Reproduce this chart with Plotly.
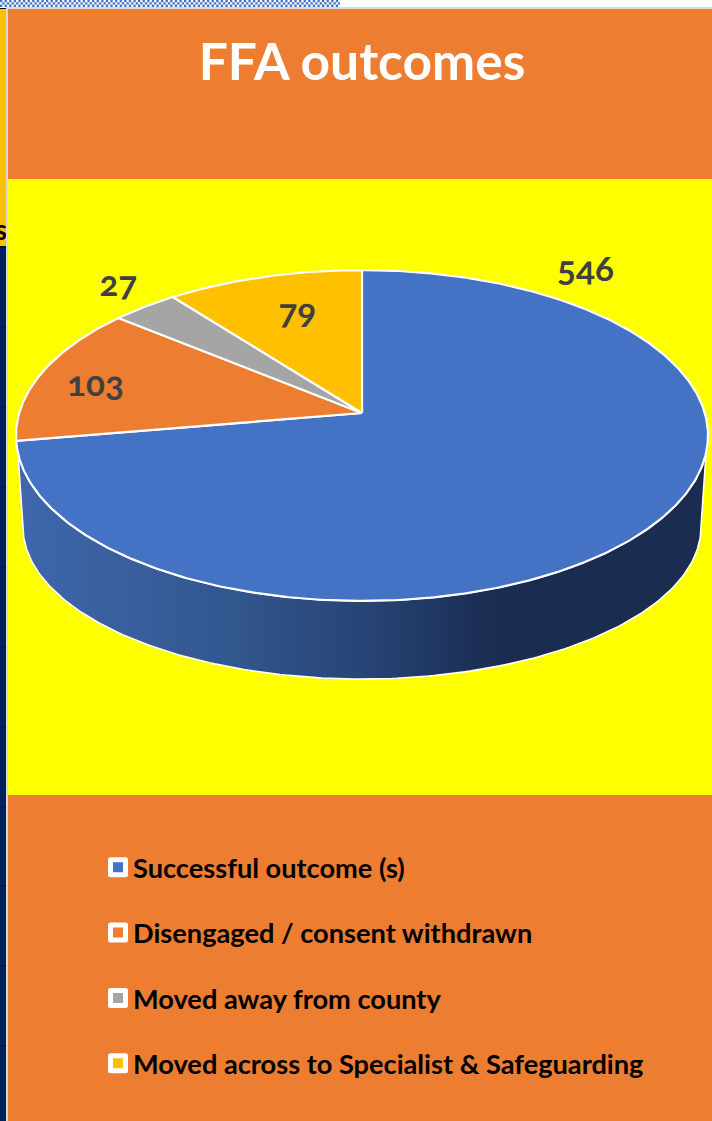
import numpy as np
import plotly.graph_objects as go

# ---- data ----
categories = ["Successful outcome (s)", "Disengaged / consent withdrawn",
              "Moved away from county", "Moved across to Specialist & Safeguarding"]
values = [546, 103, 27, 79]
colors = ["#4472C4", "#ED7D31", "#A5A5A5", "#FFC000"]
title_text = "FFA outcomes"

# ---- geometry of the tilted pie (pixel space) ----
W, H = 712, 1121
APEX_X, APEX_Y = 362, 413
A, B, K = 162.4, 342.8, 0.136     # perspective projection of the disc
RIM_CY, RIM_RX, RIM_RY = 435.5, 346, 165.5
FLOOR_CY, FLOOR_RX, FLOOR_RY = 527, 339, 152


def project(deg):
    t = np.radians(deg)
    d = 1 + K * np.cos(t)
    return APEX_X + B * np.sin(t) / d, APEX_Y - A * np.cos(t) / d


edges = np.cumsum([0] + values) / sum(values) * 360
fig = go.Figure()

# side wall of the blue slice
a0 = np.arcsin((453 - RIM_CY) / RIM_RY)
rim_a = np.linspace(a0, np.pi - a0, 200)
floor_a = np.linspace(np.pi, 0, 200)
wall_x = np.r_[APEX_X + RIM_RX * np.cos(rim_a), APEX_X + FLOOR_RX * np.cos(floor_a)]
wall_y = np.r_[RIM_CY + RIM_RY * np.sin(rim_a), FLOOR_CY + FLOOR_RY * np.sin(floor_a)]
fig.add_trace(go.Scatter(
    x=np.r_[wall_x, wall_x[0]], y=np.r_[wall_y, wall_y[0]], mode="lines", fill="toself",
    line=dict(color="white", width=1.6), showlegend=False, hoverinfo="skip",
    fillgradient=dict(type="horizontal", start=23, stop=702, colorscale=[
        [0, "#3F66AC"], [0.3, "#32578F"], [0.5, "#284476"], [0.7, "#1A2C50"], [1, "#1A2C50"]]),
))

# top faces, drawn from the values
for i, (name, col) in enumerate(zip(categories, colors)):
    ts = np.linspace(edges[i], edges[i + 1], max(4, int((edges[i + 1] - edges[i]) * 2)))
    px, py = project(ts)
    fig.add_trace(go.Scatter(
        x=np.r_[APEX_X, px, APEX_X], y=np.r_[APEX_Y, py, APEX_Y], mode="lines", fill="toself",
        fillcolor=col, line=dict(color="white", width=2.2), showlegend=False,
        name=name, text=str(values[i]), hoverinfo="name+text",
    ))

# legend entries
for name, col in zip(categories, colors):
    fig.add_trace(go.Scatter(
        x=[None], y=[None], mode="markers", name=name, legendgroup=name,
        marker=dict(symbol="square", size=15, color=col, line=dict(color="white", width=5)),
    ))

# clipped letter of the slide behind the chart
fig.add_trace(go.Scatter(x=[1], y=[233], mode="text", text=["s"], showlegend=False, hoverinfo="skip",
                         textfont=dict(family="Lato", size=28, color="black", weight="bold")))

shapes = [
    dict(type="rect", x0=0, x1=W, y0=0, y1=H, fillcolor="white", line_width=0, layer="below"),
    dict(type="rect", x0=0, x1=6, y0=8, y1=248, fillcolor="#FFC000", line_width=0, layer="below"),
    dict(type="rect", x0=0, x1=6, y0=248, y1=H, fillcolor="#002060", line_width=0, layer="below"),
    dict(type="rect", x0=0, x1=8, y0=8, y1=9, fillcolor="#111111", line_width=0, layer="below"),
    dict(type="rect", x0=0, x1=6, y0=246, y1=248, fillcolor="#111111", line_width=0, layer="below"),
    dict(type="rect", x0=8, x1=W, y0=9, y1=179, fillcolor="#ED7D31", line_width=0, layer="below"),
    dict(type="rect", x0=8, x1=W, y0=179, y1=795, fillcolor="#FFFF00", line_width=0, layer="below"),
    dict(type="rect", x0=8, x1=W, y0=795, y1=H, fillcolor="#ED7D31", line_width=0, layer="below"),
    dict(type="rect", x0=6, x1=W, y0=7, y1=9, fillcolor="#D9D9D9", line_width=0, layer="below"),
    dict(type="rect", x0=6, x1=8, y0=7, y1=H, fillcolor="#D9D9D9", line_width=0, layer="above"),
]
for ty in [327, 407, 487, 567, 647, 727, 807, 886, 966, 1046]:
    shapes.append(dict(type="line", x0=0, x1=6, y0=ty, y1=ty, line=dict(color="#111111", width=1), layer="below"))
for r in range(3):
    shapes.append(dict(type="line", x0=-2.3 * (r % 2), x1=340, y0=1.15 + 2.3 * r, y1=1.15 + 2.3 * r,
                       line=dict(color="#4472C4", width=2.3, dash="2.3px,2.3px"), layer="below"))

label_font = dict(family="Lato", size=35, color="#404040", weight="bold")
label_pos = [(585, 267), (95, 382), (118, 282), (297, 310)]
annotations = [dict(x=x, y=y, text=str(v), showarrow=False, font=label_font, xref="x", yref="y")
               for (x, y), v in zip(label_pos, values)]

fig.update_layout(
    width=W, height=H, margin=dict(l=0, r=0, t=0, b=0), autosize=False,
    paper_bgcolor="white", plot_bgcolor="rgba(0,0,0,0)",
    xaxis=dict(range=[0, W], visible=False, fixedrange=True),
    yaxis=dict(range=[H, 0], visible=False, fixedrange=True),
    title=dict(text=title_text, x=362 / W, xanchor="center", y=1 - 62 / H, yanchor="middle",
               font=dict(family="Lato", size=51.5, color="white", weight="bold")),
    legend=dict(x=93 / W, xanchor="left", y=1 - 843 / H, yanchor="top", bgcolor="rgba(0,0,0,0)",
                tracegroupgap=27, itemclick=False, itemdoubleclick=False,
                font=dict(family="Lato", size=27.2, color="black", weight="bold")),
    shapes=shapes, annotations=annotations, showlegend=True,
)

post = """
document.body.style.margin='0';
document.documentElement.style.overflow='hidden';
document.querySelectorAll('.legendsymbols').forEach(function(e){e.setAttribute('transform','translate(5,0)');});
document.querySelectorAll('.legendpoints path').forEach(function(e){e.style.strokeLinejoin='round';});
document.querySelectorAll('.annotation-text').forEach(function(e){e.style.fontFeatureSettings='"onum"';e.style.fontVariantNumeric='oldstyle-nums';});
"""
fig.write_html("out.html", post_script=post, config=dict(displayModeBar=False))
